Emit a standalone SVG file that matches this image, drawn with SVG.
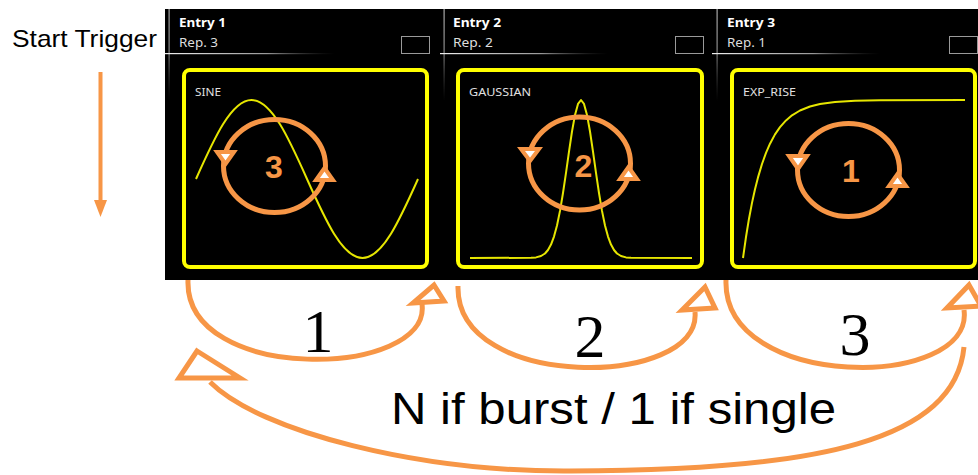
<svg xmlns="http://www.w3.org/2000/svg" width="978" height="475" viewBox="0 0 978 475">
<defs>
<linearGradient id="gv" x1="0" y1="0" x2="0" y2="1"><stop offset="0" stop-color="#aaa"/><stop offset="0.45" stop-color="#888"/><stop offset="1" stop-color="#444" stop-opacity="0"/></linearGradient>
<linearGradient id="gh" x1="0" y1="0" x2="1" y2="0"><stop offset="0" stop-color="#eee"/><stop offset="0.6" stop-color="#999"/><stop offset="1" stop-color="#333" stop-opacity="0"/></linearGradient>
</defs>
<style>
.bg{fill:#000}
.vl{fill:url(#gv)}
.hl{fill:url(#gh)}
.box{fill:none;stroke:#9a9a9a;stroke-width:1}
.frame{fill:none;stroke:#ffff00;stroke-width:4}
.curve{fill:none;stroke:#e6e600;stroke-width:2;stroke-linejoin:round}
.ent{font-family:"Noto Sans","Liberation Sans",sans-serif;font-weight:bold;font-size:12px;fill:#fff}
.rep{font-family:"Noto Sans","Liberation Sans",sans-serif;font-size:12px;fill:#ddd}
.wf{font-family:"Noto Sans","Liberation Sans",sans-serif;font-size:11px;fill:#e0e0e0}
.loop{fill:none;stroke:#f79646;stroke-width:5}
.head{fill:#fff;stroke:#f79646;stroke-width:4;stroke-linejoin:miter}
.num{font-family:"Liberation Sans",Arial,sans-serif;font-weight:bold;font-size:32px;fill:#f79646;text-anchor:middle}
.arc{fill:none;stroke:#f79646;stroke-width:5}
.ahead{fill:#fff;stroke:#f79646;stroke-width:5;stroke-linejoin:miter}
.seq{font-family:"Liberation Serif","Times New Roman",serif;font-size:62px;fill:#000;text-anchor:middle}
.lbl{font-family:"Liberation Sans",Arial,sans-serif;fill:#000}
</style>
<rect class="bg" x="165" y="9" width="813" height="271"/>
<g id="start-trigger">
<text class="lbl" x="12" y="47" font-size="24" textLength="145" lengthAdjust="spacingAndGlyphs">Start Trigger</text>
<line x1="100.5" y1="72" x2="100.5" y2="203" stroke="#f79646" stroke-width="4"/>
<polygon points="94,200 107,200 100.5,217" fill="#f79646"/>
</g>
<g id="entry1">
<rect class="vl" x="168.5" y="9" width="1.2" height="92"/>
<rect class="hl" x="165" y="53" width="170" height="1.2"/>
<text class="ent" x="179" y="26.5" textLength="47" lengthAdjust="spacingAndGlyphs">Entry 1</text>
<text class="rep" x="179" y="46.5" textLength="39" lengthAdjust="spacingAndGlyphs">Rep. 3</text>
<rect class="box" x="401.5" y="36.5" width="28" height="17"/>
<rect class="frame" x="184" y="70" width="243" height="197" rx="6"/>
<text class="wf" x="195" y="95.5" textLength="26" lengthAdjust="spacingAndGlyphs">SINE</text>
<path class="curve" d="M196,179 C214.1,138.5 231.4,100 251.5,100 C271.6,100 288.9,138.5 307,179 C325.1,219.5 342.4,258 362.5,258 C382.6,258 399.9,219.5 418,179"/>
<ellipse class="loop" cx="274.5" cy="166" rx="51" ry="46.5"/>
<polygon class="head" points="217,152 234,152 225.5,164"/>
<polygon class="head" points="316,180 333,180 324.5,168"/>
<text class="num" x="274" y="178">3</text>
</g>
<g id="entry2">
<rect class="vl" x="443.5" y="9" width="1.2" height="92"/>
<rect class="hl" x="440" y="53" width="168" height="1.2"/>
<text class="ent" x="453" y="26.5" textLength="48" lengthAdjust="spacingAndGlyphs">Entry 2</text>
<text class="rep" x="453" y="46.5" textLength="40" lengthAdjust="spacingAndGlyphs">Rep. 2</text>
<rect class="box" x="675.5" y="36.5" width="28" height="17"/>
<rect class="frame" x="458" y="70" width="244" height="197" rx="6"/>
<text class="wf" x="469" y="95.5" textLength="62" lengthAdjust="spacingAndGlyphs">GAUSSIAN</text>
<polyline class="curve" points="470,258 531,257.8 536,257.4 541,256 545,253.5 548,250 551,244.6 554,236.6 557,225.5 560,210.9 563,193 566,172.8 569,151.6 572,131.5 575,114.9 578,103.9 581,100 584,103.9 587,114.9 590,131.5 593,151.6 596,172.8 599,193 602,210.9 605,225.5 608,236.6 611,244.6 614,250 617,253.5 621,256 626,257.4 631,257.8 692,258"/>
<ellipse class="loop" cx="579.5" cy="163.5" rx="51" ry="46.5"/>
<polygon class="head" points="521,149 539,149 530,161"/>
<polygon class="head" points="620,179 637,179 628.5,167"/>
<text class="num" x="583.5" y="177">2</text>
</g>
<g id="entry3">
<rect class="vl" x="716.5" y="9" width="1.2" height="92"/>
<rect class="hl" x="712" y="53" width="168" height="1.2"/>
<text class="ent" x="727" y="26.5" textLength="48" lengthAdjust="spacingAndGlyphs">Entry 3</text>
<text class="rep" x="727" y="46.5" textLength="39" lengthAdjust="spacingAndGlyphs">Rep. 1</text>
<rect class="box" x="949.5" y="36.5" width="28" height="17"/>
<rect class="frame" x="732" y="70" width="243" height="197" rx="6"/>
<text class="wf" x="743" y="95.5" textLength="53" lengthAdjust="spacingAndGlyphs">EXP_RISE</text>
<polyline class="curve" points="743,258 746,237 749,218.7 752,202.9 755,189.2 758,177.4 762,164 766,152.9 770,143.7 775,134.4 780,127.1 786,120.4 792,115.3 800,110.5 810,106.5 820,104 835,102 855,100.8 880,100.2 965,100"/>
<ellipse class="loop" cx="848.5" cy="170" rx="51" ry="46.5"/>
<polygon class="head" points="789,156 807,156 798,169"/>
<polygon class="head" points="889,186 906,186 897.5,174"/>
<text class="num" x="851" y="182">1</text>
</g>
<g id="connectors">
<path class="arc" d="M188,280 C184,385 432,378 422,304"/>
<polygon class="ahead" points="434,285 444,301 413,303"/>
<path class="arc" d="M458,286 C455,392 702,388 695,312"/>
<polygon class="ahead" points="705,287 715,308 682,310"/>
<path class="arc" d="M726,280 C722,392 975,390 964,310"/>
<polygon class="ahead" points="969,285 981,306 947,308"/>
<path class="arc" d="M964,347 C955,440 820,471 570,471 C420,472 260,432 210,382"/>
<polygon class="ahead" points="197,351 240,378 179,378"/>
<text class="seq" x="318" y="352">1</text>
<text class="seq" x="590" y="357">2</text>
<text class="seq" x="855" y="355">3</text>
</g>
<g id="label-burst">
<text class="lbl" x="391" y="424" font-size="45" textLength="445" lengthAdjust="spacingAndGlyphs">N if burst / 1 if single</text>
</g>
</svg>
